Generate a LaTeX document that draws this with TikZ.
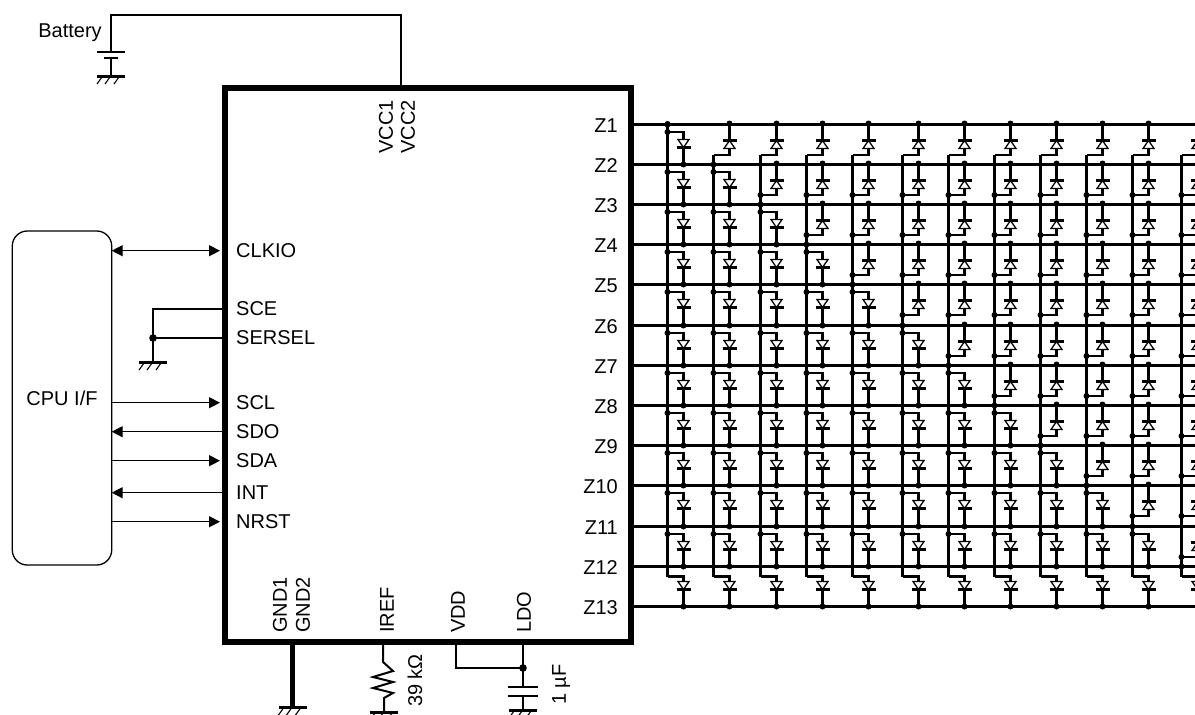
\documentclass[tikz,border=0pt]{standalone}
\usepackage{amsmath,amssymb}
\usepackage{fontspec}
\setmainfont{Liberation Sans}
\usepackage{tikz}
\usetikzlibrary{calc,positioning,shapes,arrows.meta}
\tikzstyle{chip} = [rectangle, draw, line width=6pt, outer sep=0pt, minimum width=406pt, minimum height=554pt]
\tikzstyle{cpubox} = [rectangle, rounded corners=15pt, draw, line width=1.3pt, outer sep=0pt, minimum width=99.4pt, minimum height=334pt, font=\fontsize{20}{24}\selectfont]
\tikzstyle{pinlabel} = [inner sep=0pt, font=\fontsize{20}{24}\selectfont]
\tikzstyle{vertlabel} = [pinlabel, rotate=90]
\tikzstyle{wire} = [line width=2pt]
\tikzstyle{sigarrow} = [line width=1.4pt, -{Stealth[length=11pt,width=11pt,inset=0pt]}]
\tikzstyle{inarrow} = [sigarrow, shorten >=4.5pt]
\tikzstyle{rowline} = [line width=3pt]
\tikzstyle{busline} = [line width=3pt, line join=miter]
\tikzstyle{stubline} = [line width=2.6pt]
\tikzstyle{diodetri} = [line width=1.3pt, draw, fill=white]
\tikzset{declare function={RowY(\n)=floor(124.2+40.2*(\n-1))+0.5;}}
\newcommand{\GroundSym}[1]{%
  \draw[line width=3pt] ($(#1)+(-14,0)$) -- ($(#1)+(14,0)$);
  \foreach \hx in {-9,-1,8} {
    \draw[line width=1.1pt] ($(#1)+(\hx,1)$) -- ($(#1)+(\hx-5,8)$);
  }
}
\newcommand{\JDot}[1]{\fill (#1) circle (3pt);}
\newcommand{\WDot}[1]{\fill (#1) circle (3.8pt);}

\begin{document}
\begin{tikzpicture}[x=1pt,y=-1pt]
      \clip (0,0) rectangle (1195,715);
      \node[chip] (Chip) at (427.5,364.5) {};
      \node[cpubox] (CPU) at (62,398) {CPU I/F};
      %
      \node[pinlabel,anchor=west] (CLKIO) at (236,250.7) {CLKIO};
      \node[pinlabel,anchor=west] (SCE) at (236,309) {SCE};
      \node[pinlabel,anchor=west] (SERSEL) at (236,338) {SERSEL};
      \node[pinlabel,anchor=west] (SCL) at (236,402.7) {SCL};
      \node[pinlabel,anchor=west] (SDO) at (236,431.7) {SDO};
      \node[pinlabel,anchor=west] (SDA) at (236,460.7) {SDA};
      \node[pinlabel,anchor=west] (INT) at (236,492.7) {INT};
      \node[pinlabel,anchor=west] (NRST) at (236,521.7) {NRST};
      %
      \draw[inarrow,{Stealth[length=11pt,width=11pt,inset=0pt]}-{Stealth[length=11pt,width=11pt,inset=0pt]}] (CPU.east |- CLKIO) -- (Chip.west |- CLKIO);
      \draw[inarrow] (CPU.east |- SCL) -- (Chip.west |- SCL);
      \draw[sigarrow] (Chip.west |- SDO) -- (CPU.east |- SDO);
      \draw[inarrow] (CPU.east |- SDA) -- (Chip.west |- SDA);
      \draw[sigarrow] (Chip.west |- INT) -- (CPU.east |- INT);
      \draw[inarrow] (CPU.east |- NRST) -- (Chip.west |- NRST);
      %
      \coordinate (SerGnd) at (153,362);
      \draw[wire] (Chip.west |- SCE) -- (SerGnd |- SCE) -- (SerGnd);
      \draw[wire] (Chip.west |- SERSEL) -- (SerGnd |- SERSEL);
      \WDot{SerGnd |- SERSEL}
      \GroundSym{SerGnd}
      %
      \node[pinlabel] (Battery) at (70,32.5) {Battery};
      \node[vertlabel,anchor=east] (VCC1) at (386,100) {VCC1};
      \node[vertlabel,anchor=east] (VCC2) at (408,100) {VCC2};
      \coordinate (BatTop) at (111,15);
      \coordinate (VccTop) at (401,15);
      \coordinate (BatPlus) at (111,52);
      \coordinate (BatMinus) at (111,58);
      \coordinate (BatGnd) at (111,76);
      \draw[wire] (VccTop |- Chip.north) -- (VccTop) -- (BatTop) -- (BatPlus);
      \draw[wire] (BatMinus) -- (BatGnd);
      \draw[wire] ($(BatPlus)+(-14,0)$) -- ($(BatPlus)+(14,0)$);
      \draw[wire] ($(BatMinus)+(-7,0)$) -- ($(BatMinus)+(7,0)$);
      \GroundSym{BatGnd}
      %
      \node[vertlabel,anchor=west] (GND1) at (280,633) {GND1};
      \node[vertlabel,anchor=west] (GND2) at (303,633) {GND2};
      \node[vertlabel,anchor=west] (IREF) at (387,633) {IREF};
      \node[vertlabel,anchor=west] (VDD) at (458,633) {VDD};
      \node[vertlabel,anchor=west] (LDO) at (524,633) {LDO};
      \node[vertlabel,anchor=west] (Rlabel) at (415,707) {39 kΩ};
      \node[vertlabel,anchor=west] (Clabel) at (561,705) {1 µF};
      %
      \coordinate (GndEnd) at (292.5,707);
      \draw[line width=5.5pt] (GndEnd |- Chip.south) -- (GndEnd);
      \GroundSym{GndEnd}
      \coordinate (RTop) at (383,662);
      \coordinate (RGnd) at (384,712);
      \draw[wire] (RTop |- Chip.south) -- (RTop) -- (393,671) -- (373,677) -- (393,682) -- (373,688) -- (393,693) -- (384,698) -- (RGnd);
      \GroundSym{RGnd}
      \coordinate (VddCorner) at (456,668);
      \coordinate (CapJoint) at (523,668);
      \coordinate (CapTop) at (523,687);
      \coordinate (CapBot) at (523,696);
      \coordinate (CapGnd) at (523,710);
      \draw[wire] (VddCorner |- Chip.south) -- (VddCorner) -- (CapJoint);
      \draw[wire] (CapJoint |- Chip.south) -- (CapTop);
      \draw[wire] (CapBot) -- (CapGnd);
      \draw[wire] ($(CapTop)+(-15,0)$) -- ($(CapTop)+(15,0)$);
      \draw[wire] ($(CapBot)+(-15,0)$) -- ($(CapBot)+(15,0)$);
      \WDot{CapJoint}
      \GroundSym{CapGnd}
      %
      \foreach \i in {1,...,13} {
        \pgfmathsetmacro{\yrow}{RowY(\i)}
        \node[pinlabel,anchor=east] (Z\i) at (618,\yrow+1.5) {Z\i};
        \coordinate (ZEnd\i) at (1195,\yrow);
        \draw[rowline] (Chip.east |- ZEnd\i) -- (ZEnd\i);
      }
      %
      \foreach \col/\bx in {1/667.5,2/713.5,3/760.5,4/806.5,5/852.5,6/902.5,7/948.5,8/994.5,9/1040.5,10/1086.5,11/1132.5,12/1181.5} {
        \pgfmathsetmacro{\dx}{\bx+16}
        \pgfmathsetmacro{\ybus}{RowY(\col)}
        \pgfmathsetmacro{\ytopbus}{\col==1 ? RowY(1) : RowY(1)+30.5}
        \pgfmathsetmacro{\yendbus}{RowY(12)+10}
        \draw[busline] (\bx,\ytopbus) -- (\bx,\yendbus);
        \JDot{\bx,\ybus}
        \foreach \i in {1,...,12} {
          \pgfmathsetmacro{\ytop}{RowY(\i)}
          \pgfmathsetmacro{\ybot}{RowY(\i+1)}
          \ifnum\i<\col
            \draw[stubline] (\dx,\ytop) -- (\dx,\ytop+16);
            \draw[stubline] (\dx-7,\ytop+16) -- (\dx+7,\ytop+16);
            \draw[stubline] (\dx,\ytop+24) -- (\dx,\ytop+30.5) -- (\bx,\ytop+30.5);
            \draw[diodetri] (\dx,\ytop+16) -- (\dx-5.5,\ytop+24) -- (\dx+5.5,\ytop+24) -- cycle;
            \JDot{\dx,\ytop-1}
            \ifnum\i>1 \JDot{\bx,\ytop+30.5} \fi
          \else
            \pgfmathsetmacro{\ystub}{\i==12 ? \ytop+10 : \ytop+7.5}
            \draw[stubline] (\bx,\ystub) -- (\dx,\ystub) -- (\dx,\ytop+15);
            \draw[stubline] (\dx,\ytop+23) -- (\dx,\ybot);
            \draw[stubline] (\dx-7,\ytop+23) -- (\dx+7,\ytop+23);
            \draw[diodetri] (\dx,\ytop+23) -- (\dx-5.5,\ytop+15) -- (\dx+5.5,\ytop+15) -- cycle;
            \JDot{\dx,\ybot}
            \ifnum\i<12 \JDot{\bx,\ystub} \fi
          \fi
        }
      }
      \JDot{667.5,124}
    \end{tikzpicture}
\end{document}
